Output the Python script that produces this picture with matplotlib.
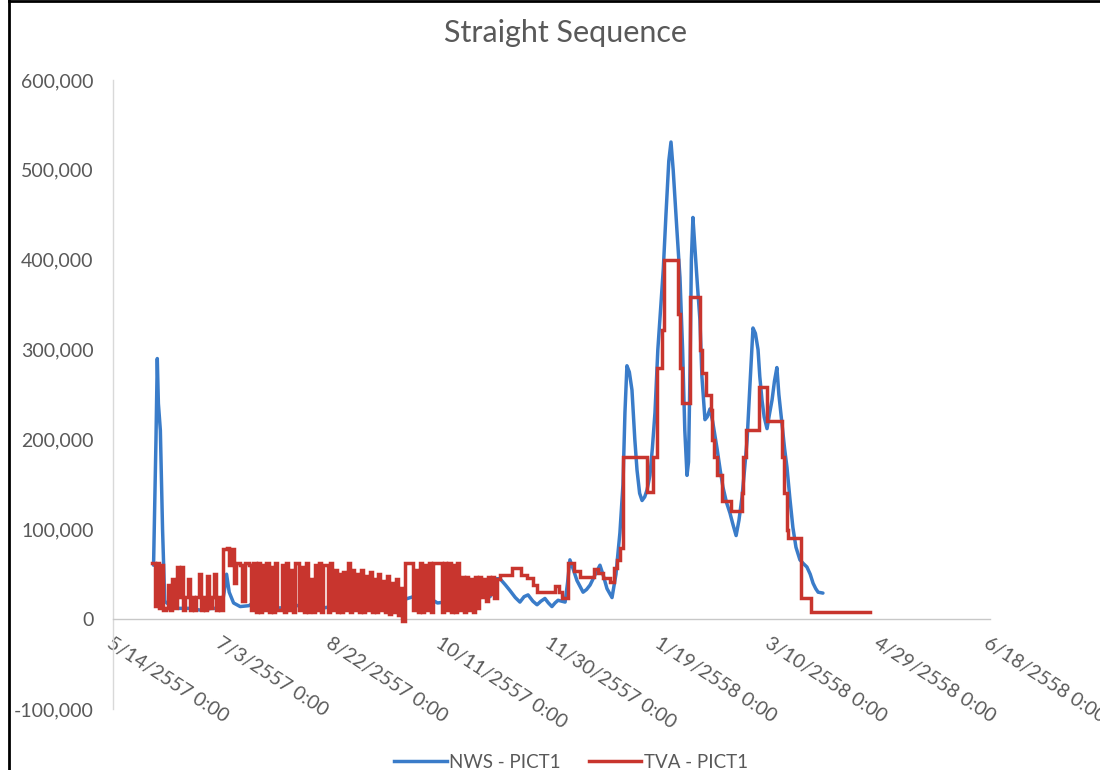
import datetime as dt
import numpy as np
import matplotlib
matplotlib.use("Agg")
import matplotlib.pyplot as plt
from matplotlib.ticker import FuncFormatter, MultipleLocator
from matplotlib.lines import Line2D

plt.rcParams['font.family'] = ['Lato', 'DejaVu Sans']
plt.rcParams['path.simplify'] = False

# ---------------- data ----------------
title = "Straight Sequence"
series_names = ["NWS - PICT1", "TVA - PICT1"]
start_date = dt.date(2014, 5, 14)      # labels shown in Thai Buddhist era (+543)
buddhist_offset = 543
x_tick_step_days = 50
x_max_days = 400
y_min, y_max, y_step = -100000, 600000, 100000

# NWS - PICT1 (days since 5/14/2557, flow value)
nws_days = [18.5, 19.6, 20.2, 20.7, 21.6, 22.6, 23.6, 26, 30, 35, 40, 45, 49.5, 51, 51.8, 53, 55, 58, 62,
            64.5, 67, 72, 80, 88, 95, 102, 110, 118, 125, 130, 133, 137, 141, 144.6, 148, 151.4, 155,
            158.3, 162, 165, 167.4, 170, 172, 174.7, 176.5, 179, 181, 183.5, 185.6, 187.5, 189.3, 191.5,
            193.4, 195.2, 197, 198.6, 200.2, 201.6, 203, 204.6, 206.2, 207.3, 208.4, 210, 211.6, 214.4,
            216, 217.6, 220, 222.1, 223.7, 225.3, 227.6, 229.4, 231.2, 232.6, 233.5, 234.4, 235.5, 236.7,
            238, 239, 240.2, 241.3, 242.5, 243.6, 244.9, 246, 247.2, 248.5, 249.9, 251, 252.2, 253.5,
            254.5, 255.5, 257.2, 258.6, 259.8, 260.8, 261.8, 262.5, 263.2, 263.8, 264.5, 265.5, 266.6,
            267.7, 268.6, 270, 271, 272.3, 273.5, 275.5, 277, 278.2, 279.8, 281.4, 282.8, 284.2, 285.5,
            286.9, 288, 289.2, 290.5, 291.9, 293, 294.2, 295, 296, 297, 298.3, 299.4, 300.6, 301.7,
            302.8, 303.7, 305.1, 306.3, 307.4, 308.7, 310.1, 311.5, 313.3, 314.8, 316.5, 318, 319.3,
            320.5, 321.6, 323.8]
nws_values = [60000, 200000, 290000, 240000, 210000, 100000, 20000, 15000, 12000, 12000, 10000, 12000, 12000,
              35000, 50000, 30000, 18000, 14000, 15000,
              19000, 13000, 12000, 13000, 17000, 12000, 15000, 12000, 15000, 13000, 16000, 22000, 25000,
              20000, 23000, 18000, 19000, 22000,
              25000, 20000, 28000, 36000, 30000, 25000, 45000, 45000, 38000, 32000, 24000, 19000, 25000,
              27000, 20000,
              16000, 20000, 23000, 18000, 14000, 18000, 21000, 20000, 19000, 40000, 66000, 55000, 43000,
              30000,
              33000, 38000, 50000, 60000, 48000, 34000, 24000, 50000, 96000, 150000, 230000, 282000,
              275000, 255000,
              200000, 166000, 140000, 132000, 136000, 144000, 160000, 190000, 230000, 300000, 350000,
              390000, 450000, 510000,
              531000, 500000, 433000, 380000, 300000, 210000, 160000, 175000, 280000, 400000, 447000,
              410000, 370000,
              333000, 270000, 222000, 225000, 234000, 220000, 190000, 165000, 147000, 130000, 118000,
              105000, 93000, 110000,
              136000, 165000, 199000, 260000, 324000, 318000, 300000, 270000, 244000, 225000, 212000,
              228000, 244000, 265000,
              280000, 250000, 218000, 190000, 169000, 135000, 102000, 80000, 66000, 62000, 58000, 50000,
              40000,
              34000, 30000, 29000]

# TVA - PICT1: daily values (day 18 .. 175), noisy early period
tva_daily_start = 18
tva_daily_values = [
    62000, 15000, 62000, 12000, 60000, 10000,                                   # 18-23
    12000, 38000, 10000, 45000, 12000, 58000, 25000, 58000, 10000, 25000,       # 24-33
    45000, 10000, 25000, 10000, 25000, 50000, 10000, 25000, 10000, 48000,       # 34-43
    12000, 25000, 50000, 10000, 25000, 10000,                                   # 44-49
    78000, 78000, 79000, 60000, 78000, 40000, 62000, 62000, 60000, 20000,       # 50-59
    62000, 62000, 60000, 10000, 62000,                                          # 60-64
    8000, 62000, 8000, 60000, 10000, 62000, 8000, 58000, 8000, 62000,           # 65-74
    10000, 10000, 60000, 8000, 62000, 10000, 55000, 8000, 62000, 62000,         # 75-84
    10000, 58000, 8000, 62000, 8000, 45000, 8000, 60000, 10000, 62000,          # 85-94
    8000, 60000, 60000, 8000, 62000, 10000, 55000, 8000, 50000, 8000,           # 95-104
    52000, 10000, 62000, 8000, 55000, 10000, 50000, 8000, 55000, 8000,          # 105-114
    48000, 10000, 52000, 8000, 45000, 8000, 50000, 10000, 42000, 8000,          # 115-124
    48000, 6000, 40000, 8000, 45000, 5000, 35000, -2000,                        # 125-132
    62000, 62000, 62000, 62000, 10000, 55000, 8000, 62000, 8000, 60000,         # 133-142
    10000, 62000, 8000, 62000, 62000, 62000, 62000, 8000, 62000, 10000,         # 143-152
    62000, 8000, 60000, 8000, 62000, 10000,                                     # 153-158
    47000, 8000, 47000, 10000, 45000, 8000, 47000, 12000,                       # 159-166
    47000, 25000, 45000, 20000, 47000, 28000, 47000, 24000, 45000,              # 167-175
]
# TVA - PICT1: step changes afterwards (day where value starts, value)
tva_step_days = [176.5, 182, 186, 189, 191.6, 193.4, 201.6, 203.5, 204.8, 207.5, 210.3, 213, 219.5,
                 221.2, 223.5, 226.7, 228.7, 230, 231.2, 232.6, 243.6, 246.3, 248.2, 250.4, 251.3,
                 257.7, 258.6, 259.5, 263.2, 267.7, 268.6, 270.4, 272.7, 273.1, 274.1, 275.5, 277.7,
                 282, 287, 287.5, 288.6, 294.5, 298.2, 305, 305.9, 307.3, 307.7, 313.7, 318.2, 345.3]
tva_step_values = [49000, 57000, 49000, 46000, 38000, 30000, 37000, 30000, 24000, 62000, 54000, 47000, 56000,
                   51000, 46000, 41000, 57000, 66000, 79000, 180000, 141000, 180000, 280000, 322000, 400000,
                   340000, 280000, 240000, 358000, 300000, 274000, 249000, 233000, 199000, 180000, 160000,
                   131000,
                   120000, 140000, 180000, 210000, 258000, 220000, 180000, 140000, 99000, 90000, 24000,
                   8000, 8000]

# ---------------- styling ----------------
blue = "#3a7cc9"
red = "#c8352e"
text_gray = "#595959"
axis_gray = "#c8c8c8"

W, H = 1100, 770
fig = plt.figure(figsize=(W / 100, H / 100), dpi=100)
ax = fig.add_axes([113 / W, 1 - 709 / H, (990 - 113) / W, (709 - 80) / H])

tva_days = list(tva_daily_start + np.arange(len(tva_daily_values))) + tva_step_days
tva_values = tva_daily_values + tva_step_values

ax.plot(nws_days, nws_values, color=blue, lw=2.5, solid_joinstyle='round',
        solid_capstyle='round', label=series_names[0], zorder=3)
ax.plot(tva_days, tva_values, color=red, lw=2.5, drawstyle='steps-post',
        solid_joinstyle='miter', label=series_names[1], zorder=4)

ax.set_xlim(0, x_max_days)
ax.set_ylim(y_min, y_max)
ax.yaxis.set_major_locator(MultipleLocator(y_step))
ax.xaxis.set_major_locator(MultipleLocator(x_tick_step_days))
ax.yaxis.set_major_formatter(FuncFormatter(lambda v, p: f"{v:,.0f}"))


def day_label(v, p):
    d = start_date + dt.timedelta(days=int(round(v)))
    return f"{d.month}/{d.day}/{d.year + buddhist_offset} 0:00"


ax.xaxis.set_major_formatter(FuncFormatter(day_label))

for s in ['top', 'right']:
    ax.spines[s].set_visible(False)
ax.spines['bottom'].set_position(('data', 0))
ax.spines['bottom'].set_color(axis_gray)
ax.spines['left'].set_color("#d9d9d9")
ax.spines['bottom'].set_linewidth(1.0)
ax.spines['left'].set_linewidth(1.0)

ax.tick_params(axis='y', length=0, pad=14, labelsize=14, labelcolor=text_gray)
ax.tick_params(axis='x', length=0, pad=11, labelsize=14, labelcolor=text_gray, labelrotation=-33)
for lbl in ax.get_xticklabels():
    lbl.set_ha('left')
    lbl.set_va('top')
    lbl.set_rotation_mode('anchor')
ax.patch.set_visible(False)

fig.text(566 / W, 1 - 33 / H, title, ha='center', va='center', fontsize=22, color=text_gray)

handles = [Line2D([], [], color=blue, lw=2.5), Line2D([], [], color=red, lw=2.5)]
fig.legend(handles, series_names, loc='center', bbox_to_anchor=(571 / W, 1 - 762 / H), ncol=2,
           frameon=False, fontsize=13.5, labelcolor=text_gray, handlelength=2.8, columnspacing=1.5,
           handletextpad=0.12)

# outer frame lines (left and top)
fig.add_artist(Line2D([9 / W, 9 / W], [0, 1], transform=fig.transFigure, color='black', lw=2))
fig.add_artist(Line2D([9 / W, 1], [1 - 1 / H, 1 - 1 / H], transform=fig.transFigure, color='black', lw=2))

fig.savefig("out.png", dpi=100)
